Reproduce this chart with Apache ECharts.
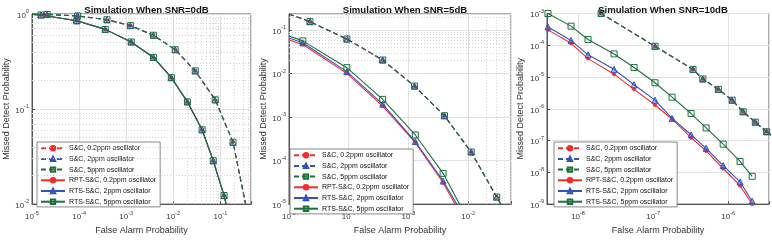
<!DOCTYPE html>
<html><head><meta charset="utf-8">
<script src="https://cdn.jsdelivr.net/npm/echarts@6/dist/echarts.min.js"></script>
<style>html,body{margin:0;padding:0;background:#fff}#c{width:772px;height:240px}</style>
</head><body><div id="c"></div>
<script>
// ---------------- DATA ----------------
const seriesNames = ['S&C, 0.2ppm oscillator','S&C, 2ppm oscillator','S&C, 5ppm oscillator',
  'RPT-S&C, 0.2ppm oscillator','RTS-S&C, 2ppm oscillator','RTS-S&C, 5ppm oscillator'];
const panelTitles = ['Simulation When SNR=0dB','Simulation When SNR=5dB','Simulation When SNR=10dB'];
const xAxisName = 'False Alarm Probability';
const yAxisName = 'Missed Detect Probability';

// axis ranges [xmin, xmax, ymin, ymax]
const snr0_range  = [1e-5, 0.448, 1e-2, 1];
const snr5_range  = [1e-5, 0.052, 1e-5, 0.237];
const snr10_range = [3.86e-9, 3.5e-6, 1e-9, 1e-3];

// SNR = 0 dB (the three oscillators overlap)
const snr0_sc_pfa  = [2.1e-5, 9.3e-5, 3.9e-4, 1.23e-3, 3.8e-3, 1.1e-2, 2.93e-2, 7.8e-2, 1.86e-1];
const snr0_sc_pmd  = [0.99, 0.955, 0.87, 0.755, 0.598, 0.421, 0.252, 0.125, 0.0447];
const snr0_sc_head = [1e-5, 1.0];
const snr0_sc_tail = [0.55, 0.0032];
const snr0_rts_pfa  = [1.55e-5, 8.9e-5, 3.6e-4, 1.28e-3, 3.8e-3, 9.1e-3, 2.0e-2, 4.1e-2, 7.07e-2, 1.2e-1];
const snr0_rts_pmd  = [0.977, 0.849, 0.689, 0.508, 0.349, 0.214, 0.119, 0.0605, 0.0286, 0.0123];
const snr0_rts_head = [1e-5, 0.99];
const snr0_rts_tail = [0.195, 0.0045];

// SNR = 5 dB
const snr5_sc_pfa  = [2.24e-5, 9.3e-5, 3.7e-4, 1.26e-3, 4.0e-3, 1.12e-2, 3.0e-2];
const snr5_sc_pmd  = [0.158, 0.063, 0.0207, 5.2e-3, 1.08e-3, 1.58e-4, 1.45e-5];
const snr5_sc_head = [1e-5, 0.235];
const snr5_sc_tail = [0.0414, 6.8e-6];
const snr5_rts_pfa = [1.7e-5, 9.3e-5, 3.7e-4, 1.3e-3, 3.8e-3];
const snr5_rpt02_pmd = [0.047, 0.0102, 1.8e-3, 2.6e-4, 3.1e-5];
const snr5_rts2_pmd  = [0.0516, 0.0112, 2.0e-3, 2.75e-4, 3.4e-5];
const snr5_rts5_pmd  = [0.057, 0.0138, 2.57e-3, 3.9e-4, 5.1e-5];
const snr5_rpt02_head = [1e-5, 0.060],  snr5_rpt02_tail = [7.4e-3, 6.0e-6];
const snr5_rts2_head  = [1e-5, 0.0665], snr5_rts2_tail  = [7.6e-3, 6.8e-6];
const snr5_rts5_head  = [1e-5, 0.0738], snr5_rts5_tail  = [8.3e-3, 6.8e-6];

// SNR = 10 dB
const snr10_sc_pfa  = [2.03e-8, 1.06e-7, 3.4e-7, 4.6e-7, 7.4e-7, 1.13e-6, 1.58e-6, 2.3e-6, 3.25e-6];
const snr10_sc_pmd  = [1.0e-3, 9.3e-5, 1.74e-5, 8.7e-6, 4.1e-6, 1.87e-6, 8.1e-7, 3.8e-7, 1.9e-7];
const snr10_sc_head = [1.06e-8, 2.5e-3];
const snr10_sc_tail = [4.9e-6, 9.3e-8];
const snr10_rts_pfa = [3.98e-9, 8.07e-9, 1.36e-8, 3.02e-8, 5.58e-8, 1.06e-7, 1.79e-7, 3.21e-7, 5.09e-7, 8.58e-7, 1.44e-6, 2.09e-6];
const snr10_rpt02_pmd = [3.05e-4, 1.15e-4, 3.8e-5, 1.23e-5, 4.1e-6, 1.32e-6, 4.7e-7, 1.23e-7, 4.7e-8, 1.32e-8, 3.8e-9, 1.0e-9];
const snr10_rts2_pmd  = [3.77e-4, 1.42e-4, 5.0e-5, 1.75e-5, 5.7e-6, 1.87e-6, 5.0e-7, 1.52e-7, 5.7e-8, 1.63e-8, 5.0e-9, 1.23e-9];
const snr10_rts5_pmd  = [1.0e-3, 4.0e-4, 1.52e-4, 5.34e-5, 2.0e-5, 6.6e-6, 2.32e-6, 7.1e-7, 2.5e-7, 7.7e-8, 2.2e-8, 7.5e-9];

// ---------------- STYLE / LAYOUT ----------------
const FONT = '"Liberation Sans", Arial, Helvetica, sans-serif';
const RED = '#f52b2b', BLUE = '#3451c4', GREEN = '#1f6f3c';
const STY = [
  {c: RED,   dash: true,  sym: 'circle',   sz: 3.5, fill: RED},
  {c: BLUE,  dash: true,  sym: 'triangle', sz: 6,   fill: 'rgba(52,81,196,0.35)'},
  {c: GREEN, dash: true,  sym: 'rect',     sz: 6,   fill: 'rgba(0,0,0,0)'},
  {c: RED,   dash: false, sym: 'circle',   sz: 3.5, fill: RED},
  {c: BLUE,  dash: false, sym: 'triangle', sz: 6,   fill: 'rgba(52,81,196,0.35)'},
  {c: GREEN, dash: false, sym: 'rect',     sz: 6,   fill: 'rgba(0,0,0,0)'}
];
const GRIDS = [
  {left: 32,  top: 14,   width: 219, height: 197},
  {left: 289, top: 14,   width: 222, height: 197},
  {left: 547, top: 13.5, width: 222, height: 197.5}
];
const RANGES = [snr0_range, snr5_range, snr10_range];
const LEGPOS = [{left: 37, top: 142}, {left: 290, top: 149}, {left: 554, top: 142}];
const YNAMEGAP = [19, 21, 22];

function pts(head, xs, ys, tail) {
  const d = [];
  if (head) d.push({value: head, symbol: 'none'});
  xs.forEach((x, i) => d.push([x, ys[i]]));
  if (tail) d.push({value: tail, symbol: 'none'});
  return d;
}
const PANEL_DATA = [
  [pts(snr0_sc_head, snr0_sc_pfa, snr0_sc_pmd, snr0_sc_tail),
   pts(snr0_sc_head, snr0_sc_pfa, snr0_sc_pmd, snr0_sc_tail),
   pts(snr0_sc_head, snr0_sc_pfa, snr0_sc_pmd, snr0_sc_tail),
   pts(snr0_rts_head, snr0_rts_pfa, snr0_rts_pmd, snr0_rts_tail),
   pts(snr0_rts_head, snr0_rts_pfa, snr0_rts_pmd, snr0_rts_tail),
   pts(snr0_rts_head, snr0_rts_pfa, snr0_rts_pmd, snr0_rts_tail)],
  [pts(snr5_sc_head, snr5_sc_pfa, snr5_sc_pmd, snr5_sc_tail),
   pts(snr5_sc_head, snr5_sc_pfa, snr5_sc_pmd, snr5_sc_tail),
   pts(snr5_sc_head, snr5_sc_pfa, snr5_sc_pmd, snr5_sc_tail),
   pts(snr5_rpt02_head, snr5_rts_pfa, snr5_rpt02_pmd, snr5_rpt02_tail),
   pts(snr5_rts2_head, snr5_rts_pfa, snr5_rts2_pmd, snr5_rts2_tail),
   pts(snr5_rts5_head, snr5_rts_pfa, snr5_rts5_pmd, snr5_rts5_tail)],
  [pts(snr10_sc_head, snr10_sc_pfa, snr10_sc_pmd, snr10_sc_tail),
   pts(snr10_sc_head, snr10_sc_pfa, snr10_sc_pmd, snr10_sc_tail),
   pts(snr10_sc_head, snr10_sc_pfa, snr10_sc_pmd, snr10_sc_tail),
   pts(null, snr10_rts_pfa, snr10_rpt02_pmd, null),
   pts(null, snr10_rts_pfa, snr10_rts2_pmd, null),
   pts(null, snr10_rts_pfa, snr10_rts5_pmd, null)]
];

function isPow10(v) { const l = Math.log10(v); return Math.abs(l - Math.round(l)) < 1e-6; }
function logLabel(v) {
  if (!isPow10(v)) return '';
  return '{b|10}{s|' + Math.round(Math.log10(v)) + '}';
}
const RICH = {
  b: {fontSize: 8, color: '#3a3a3a', fontFamily: FONT, verticalAlign: 'bottom', lineHeight: 11},
  s: {fontSize: 5.5, color: '#3a3a3a', fontFamily: FONT, verticalAlign: 'top', lineHeight: 7}
};
function minorVals(lo, hi) {
  const out = [];
  for (let e = Math.floor(Math.log10(lo)); e <= Math.ceil(Math.log10(hi)); e++)
    for (let k = 2; k <= 9; k++) { const v = k * Math.pow(10, e); if (v > lo * 1.0001 && v < hi * 0.9999) out.push(v); }
  return out;
}
function axisCommon(g, isX, lo, hi) {
  return {
    type: 'log', logBase: 10, gridIndex: g, min: lo, max: hi,
    axisLine: {show: true, lineStyle: {color: '#555', width: 1}},
    axisTick: {show: true, inside: true, length: 3, lineStyle: {color: '#555'}},
    axisLabel: {formatter: logLabel, rich: RICH, margin: isX ? 6 : 3, hideOverlap: false},
    splitLine: {show: true, lineStyle: {color: '#e2e2e2', width: 1}},
    minorTick: {show: false}, minorSplitLine: {show: false},
    name: isX ? xAxisName : yAxisName, nameLocation: 'middle',
    nameGap: isX ? 14 : YNAMEGAP[g],
    nameTextStyle: {fontSize: 9, color: '#333', fontFamily: FONT}
  };
}

const xAxes = [], yAxes = [], series = [], legends = [], titles = [], grids = [];
GRIDS.forEach((G, g) => {
  const R = RANGES[g];
  grids.push(Object.assign({show: true, borderColor: '#555', borderWidth: 1, backgroundColor: 'transparent', containLabel: false}, G));
  xAxes.push(axisCommon(g, true, R[0], R[1]));
  yAxes.push(axisCommon(g, false, R[2], R[3]));
  titles.push({text: panelTitles[g], left: G.left + G.width / 2, top: 0, textAlign: 'center',
    textStyle: {fontSize: 9.6, fontWeight: 'bold', color: '#111', fontFamily: FONT}});
  // minor grid (dotted) through markLines on the axes' scales
  series.push({
    type: 'line', xAxisIndex: g, yAxisIndex: g, data: [{value: [R[0], R[2]], symbol: 'none'}],
    lineStyle: {width: 0}, silent: true, z: 1, animation: false,
    markLine: {
      silent: true, symbol: ['none', 'none'], label: {show: false}, animation: false,
      lineStyle: {color: '#d4d4d4', type: [1, 2], width: 1},
      emphasis: {disabled: true},
      data: minorVals(R[0], R[1]).map(v => ({xAxis: v})).concat(minorVals(R[2], R[3]).map(v => ({yAxis: v})))
    }
  });
  PANEL_DATA[g].forEach((d, i) => {
    const s = STY[i];
    series.push({
      type: 'line', name: seriesNames[i], xAxisIndex: g, yAxisIndex: g, data: d,
      symbol: s.sym, symbolSize: s.sz, showAllSymbol: true, clip: true,
      lineStyle: {color: s.c, width: 1.1, type: s.dash ? [5, 3] : 'solid'},
      itemStyle: {color: s.fill, borderColor: s.c, borderWidth: s.sym === 'circle' ? 0.5 : 1},
      emphasis: {disabled: true}, animation: false, z: 3 + i
    });
  });
  legends.push(Object.assign({
    orient: 'vertical', data: seriesNames, selectedMode: false,
    itemWidth: 24, itemHeight: 5.5, itemGap: 2.3, padding: [2, 4, 1, 3],
    backgroundColor: '#fff', borderColor: '#6a6a6a', borderWidth: 0.8, borderRadius: 0,
    textStyle: {fontSize: 7, lineHeight: 8.4, color: '#111', fontFamily: FONT, padding: [0, 0, 0, -1]}
  }, LEGPOS[g]));
});

const chart = echarts.init(document.getElementById('c'), null, {renderer: 'canvas'});
chart.setOption({
  animation: false, backgroundColor: '#fff',
  title: titles, grid: grids, xAxis: xAxes, yAxis: yAxes, legend: legends, series: series
});
</script>
</body></html>
